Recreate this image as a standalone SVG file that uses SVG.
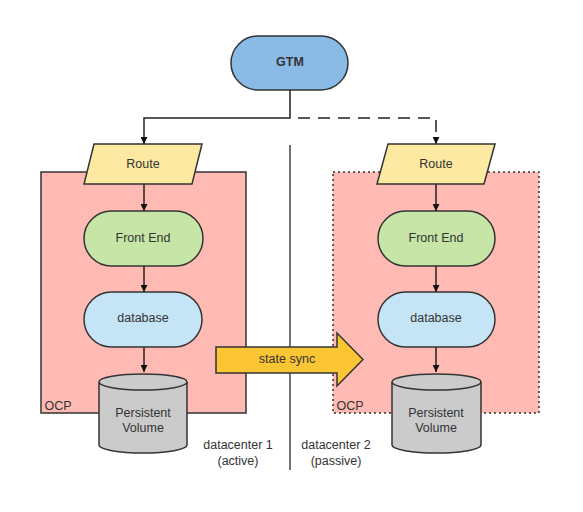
<svg xmlns="http://www.w3.org/2000/svg" width="583" height="512" viewBox="0 0 583 512">
<style>
text{font-family:"Liberation Sans",Arial,sans-serif;font-size:12.5px;fill:#333;text-anchor:middle;dominant-baseline:central}
.s{stroke:#333;stroke-width:1.5}
.ln{stroke:#222;stroke-width:1.5;fill:none}
</style>
<defs>
<marker id="ah" viewBox="0 0 10 10" refX="10" refY="5" markerWidth="7" markerHeight="7" orient="auto" markerUnits="userSpaceOnUse"><path d="M0,0 L10,5 L0,10 z" fill="#111"/></marker>
</defs>
<rect width="583" height="512" fill="#fff"/>
<g id="ocp1"><rect x="41" y="172" width="205" height="241" fill="#FFBBB3" class="s"/><text x="58" y="406">OCP</text></g>
<g id="ocp2"><rect x="333" y="172" width="206" height="241" fill="#FFBBB3" stroke="#333" stroke-width="1.5" stroke-dasharray="2,3"/><text x="350" y="406">OCP</text></g>
<line x1="290" y1="145" x2="290" y2="470" stroke="#444" stroke-width="1.5"/>
<g id="connectors">
<path class="ln" d="M290,90 V118 H144 V144" marker-end="url(#ah)"/>
<path class="ln" d="M298,118 H436 V144" stroke-dasharray="12,8" marker-end="url(#ah)"/>
<path class="ln" d="M144,184 V211" marker-end="url(#ah)"/>
<path class="ln" d="M144,266 V292" marker-end="url(#ah)"/>
<path class="ln" d="M144,347 V372" marker-end="url(#ah)"/>
<path class="ln" d="M436,184 V211" marker-end="url(#ah)"/>
<path class="ln" d="M436,266 V292" marker-end="url(#ah)"/>
<path class="ln" d="M436,347 V372" marker-end="url(#ah)"/>
</g>
<g id="gtm"><rect x="231" y="36" width="117" height="54" rx="27" fill="#89BBE6" class="s"/><text x="290" y="62" font-weight="bold">GTM</text></g>
<g id="route1"><path d="M94,144 H202 L192,184 H84 Z" fill="#FDE9A1" class="s"/><text x="143" y="164">Route</text></g>
<g id="route2"><path d="M388,144 H495 L484,184 H377 Z" fill="#FDE9A1" class="s"/><text x="436" y="164">Route</text></g>
<g id="fe1"><rect x="84" y="211" width="119" height="55" rx="27.5" fill="#C6E5A6" class="s"/><text x="143" y="238">Front End</text></g>
<g id="fe2"><rect x="378" y="211" width="117" height="55" rx="27.5" fill="#C6E5A6" class="s"/><text x="436" y="238">Front End</text></g>
<g id="db1"><rect x="84" y="292" width="118" height="55" rx="27.5" fill="#C5E4F6" class="s"/><text x="143" y="318">database</text></g>
<g id="db2"><rect x="378" y="292" width="117" height="55" rx="27.5" fill="#C5E4F6" class="s"/><text x="436" y="318">database</text></g>
<g id="pv1"><path d="M99,382 V445 A44,8 0 0 0 187,445 V382" fill="#CBCBCB" class="s"/><ellipse cx="143" cy="382" rx="44" ry="8" fill="#CBCBCB" class="s"/><text x="143" y="413">Persistent</text><text x="143" y="428">Volume</text></g>
<g id="pv2"><path d="M392,382 V445 A44.5,8 0 0 0 481,445 V382" fill="#CBCBCB" class="s"/><ellipse cx="436.5" cy="382" rx="44.5" ry="8" fill="#CBCBCB" class="s"/><text x="436" y="413">Persistent</text><text x="436" y="428">Volume</text></g>
<g id="sync"><path d="M216,347 H337 V333 L363,359.5 L337,386 V373 H216 Z" fill="#FBC534" class="s"/><text x="287" y="359">state sync</text></g>
<g id="dc1"><text x="238" y="445">datacenter 1</text><text x="238" y="461">(active)</text></g>
<g id="dc2"><text x="336" y="445">datacenter 2</text><text x="336" y="461">(passive)</text></g>
</svg>
